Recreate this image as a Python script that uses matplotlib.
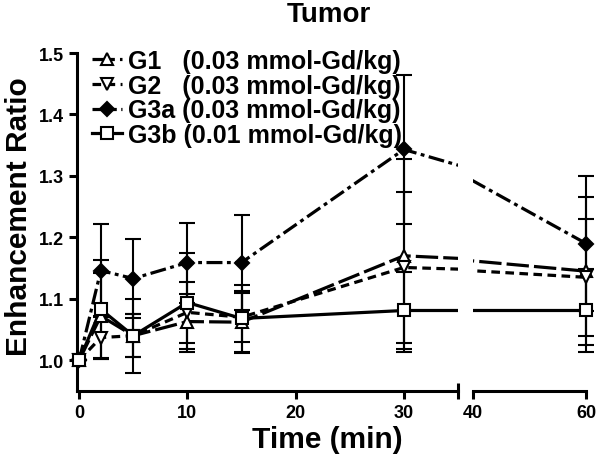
import matplotlib
matplotlib.use('Agg')
import matplotlib.pyplot as plt
import numpy as np

plt.rcParams['font.family'] = ['Liberation Sans', 'DejaVu Sans']
plt.rcParams['font.weight'] = 'bold'

# data
time = np.array([0, 2, 5, 10, 15, 30, 60])
g1 = [1.00, 1.072, 1.040, 1.063, 1.062, 1.170, 1.145]
g1_err = [0.0, 0.070, 0.035, 0.045, 0.050, 0.157, 0.120]
g2 = [1.00, 1.037, 1.040, 1.078, 1.070, 1.151, 1.135]
g2_err = [0.0, 0.035, 0.035, 0.050, 0.040, 0.123, 0.095]
g3a = [1.00, 1.146, 1.133, 1.159, 1.159, 1.343, 1.190]
g3a_err = [0.0, 0.075, 0.065, 0.065, 0.077, 0.122, 0.110]
g3b = [1.00, 1.083, 1.040, 1.094, 1.068, 1.081, 1.081]
g3b_err = [0.0, 0.080, 0.060, 0.080, 0.055, 0.062, 0.067]
labels = ['G1   (0.03 mmol-Gd/kg)', 'G2   (0.03 mmol-Gd/kg)',
          'G3a (0.03 mmol-Gd/kg)', 'G3b (0.01 mmol-Gd/kg)']

series = [
    (g1, g1_err, '^', 'white', (0, (7, 1.6))),
    (g2, g2_err, 'v', 'white', (0, (2.7, 1.7))),
    (g3a, g3a_err, 'D', 'black', (0, (5, 1.4, 1.2, 1.4))),
    (g3b, g3b_err, 's', 'white', '-'),
]
msize = {'^': 9, 'v': 9, 'D': 7.5, 's': 8}

fig = plt.figure(figsize=(6, 4.6), dpi=100)
bottom, top = 1 - 392 / 460, 1 - 54 / 460
ax1 = fig.add_axes([77 / 600, bottom, (458 - 77) / 600, top - bottom])
ax2 = fig.add_axes([473 / 600, bottom, (590 - 473) / 600, top - bottom])

handles = []
for ax, keep in [(ax1, time <= 30), (ax2, time >= 40)]:
    for y, e, mk, fc, ls in series:
        y = np.array(y); e = np.array(e)
        ax.plot(time, y, color='black', lw=2.3, linestyle=ls, zorder=2)
        ax.errorbar(time[keep], y[keep], yerr=e[keep], fmt=mk, color='black',
                    mfc=fc, mec='black', mew=1.5, ms=msize[mk], elinewidth=1.5,
                    capsize=6, capthick=1.5, clip_on=False, zorder=3)
        if ax is ax1:
            h, = ax.plot([], [], color='black', lw=2.3, linestyle=ls, marker=mk,
                         mfc=fc, mec='black', mew=1.5, ms=msize[mk])
            handles.append(h)

for ax in (ax1, ax2):
    ax.set_ylim(0.95, 1.5)
    ax.spines['top'].set_visible(False)
    ax.spines['right'].set_visible(False)
    for s in ax.spines.values():
        s.set_linewidth(2.2)
    ax.tick_params(width=2.2, length=6, labelsize=13)

ax1.set_xlim(-0.2, 35)
ax1.set_xticks([0, 10, 20, 30])
ax1.set_xticks([35], minor=True)
ax1.tick_params(axis='x', which='minor', direction='inout', length=12, width=2.2)
ax1.set_yticks([1.0, 1.1, 1.2, 1.3, 1.4, 1.5])
ax1.set_yticklabels(['1.0', '1.1', '1.2', '1.3', '1.4', '1.5'])

ax2.set_xlim(40, 60.7)
ax2.spines['bottom'].set_bounds(40, 60)
ax2.spines['left'].set_visible(False)
ax2.set_yticks([])
ax2.set_xticks([40, 60])
ax2.set_xticks([40], minor=True)
ax2.tick_params(axis='x', which='minor', direction='inout', length=12, width=2.2)

for ax in (ax1, ax2):
    for lab in ax.get_xticklabels() + ax.get_yticklabels():
        lab.set_fontweight('bold')

ax1.legend(handles, labels, loc='upper left', bbox_to_anchor=(0.04, 1.012),
           frameon=False, prop={'size': 18, 'weight': 'bold'},
           handlelength=1.2, handletextpad=0.25, labelspacing=0.03,
           borderaxespad=0, borderpad=0)

fig.text(329 / 600, 1 - 22 / 460, 'Tumor', ha='center', va='baseline',
         fontsize=20, fontweight='bold')
fig.text(327 / 600, 1 - 440 / 460, 'Time (min)', ha='center', va='center',
         fontsize=21.5, fontweight='bold')
fig.text(19 / 600, 1 - 217 / 460, 'Enhancement Ratio', ha='center', va='center',
         rotation=90, fontsize=21.5, fontweight='bold')

fig.savefig('out.png', dpi=100)
